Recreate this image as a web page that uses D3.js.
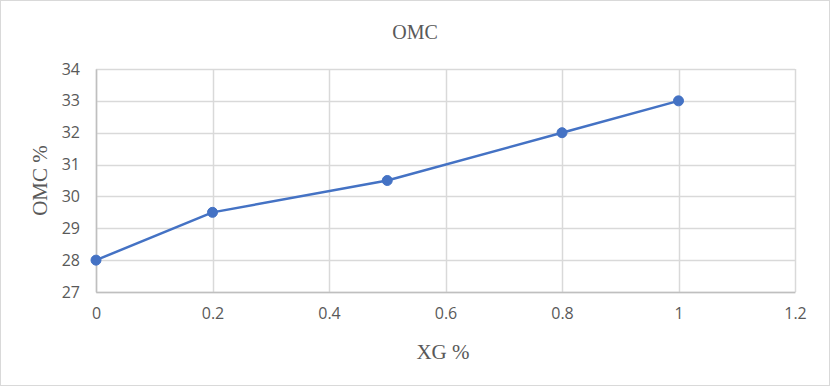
<!DOCTYPE html>
<html>
<head>
<meta charset="utf-8">
<script src="https://cdn.jsdelivr.net/npm/d3@7"></script>
<style>
  body { margin: 0; background: #fff; }
  svg { display: block; }
</style>
</head>
<body>
<svg id="chart" width="830" height="386"></svg>
<script>
// data
var xgValues = [0, 0.2, 0.5, 0.8, 1];
var omcValues = [28, 29.5, 30.5, 32, 33];
var xTicks = [0, 0.2, 0.4, 0.6, 0.8, 1, 1.2];
var yTicks = [27, 28, 29, 30, 31, 32, 33, 34];

var W = 830, H = 386;
var margin = {top: 69, right: 35, bottom: 94, left: 96};
var width = W - margin.left - margin.right,
    height = H - margin.top - margin.bottom;

var svg = d3.select("#chart");

// outer border
svg.append("rect")
  .attr("x", 0.5).attr("y", 0.5)
  .attr("width", W - 1).attr("height", H - 1)
  .attr("fill", "#fff")
  .attr("stroke", "#d9d9d9");

var g = svg.append("g")
  .attr("transform", "translate(" + margin.left + "," + margin.top + ")");

var xScale = d3.scaleLinear().domain([0, 1.2]).range([0, width]);
var yScale = d3.scaleLinear().domain([27, 34]).range([height, 0]);

// gridlines
g.selectAll(".hgrid")
  .data(yTicks)
  .enter().append("line")
  .attr("x1", 0).attr("x2", width)
  .attr("y1", function(d) { return Math.round(yScale(d)) + 0.5; })
  .attr("y2", function(d) { return Math.round(yScale(d)) + 0.5; })
  .attr("stroke", "#d9d9d9")
  .attr("stroke-width", 1.5);

g.selectAll(".vgrid")
  .data(xTicks)
  .enter().append("line")
  .attr("y1", 0).attr("y2", height)
  .attr("x1", function(d) { return Math.round(xScale(d)) + 0.5; })
  .attr("x2", function(d) { return Math.round(xScale(d)) + 0.5; })
  .attr("stroke", "#d9d9d9")
  .attr("stroke-width", 1.5);

// axes
var xAxis = d3.axisBottom(xScale).tickValues(xTicks).tickSize(0).tickPadding(16)
  .tickFormat(function(d) { return String(+d.toFixed(1)); });
var yAxis = d3.axisLeft(yScale).tickValues(yTicks).tickSize(0).tickPadding(16)
  .tickFormat(d3.format("d"));

var gx = g.append("g")
  .attr("transform", "translate(0," + height + ")")
  .call(xAxis);
gx.select(".domain").attr("stroke", "#bfbfbf").attr("stroke-width", 1.5);

var gy = g.append("g").call(yAxis);
gy.select(".domain").attr("stroke", "#bfbfbf").attr("stroke-width", 1.5);

svg.selectAll(".tick text")
  .attr("fill", "#595959")
  .style("font-family", "'Open Sans', 'Liberation Sans', sans-serif")
  .style("font-size", "16px");

// line
var lineGenerator = d3.line()
  .x(function(d, i) { return xScale(xgValues[i]); })
  .y(function(d) { return yScale(d); });

g.append("path")
  .attr("fill", "none")
  .attr("stroke", "#4472c4")
  .attr("stroke-width", 2.5)
  .attr("stroke-linejoin", "round")
  .attr("d", lineGenerator(omcValues));

g.selectAll(".dot")
  .data(omcValues)
  .enter().append("circle")
  .attr("cx", function(d, i) { return xScale(xgValues[i]); })
  .attr("cy", function(d) { return yScale(d); })
  .attr("r", 5)
  .attr("fill", "#4472c4")
  .attr("stroke", "#4472c4");

// titles
var serif = "'Liberation Serif', 'DejaVu Serif', serif";
svg.append("text")
  .attr("x", 415).attr("y", 39)
  .attr("text-anchor", "middle")
  .attr("fill", "#595959")
  .style("font-family", serif)
  .style("font-size", "20px")
  .text("OMC");

svg.append("text")
  .attr("x", 443).attr("y", 359)
  .attr("text-anchor", "middle")
  .attr("fill", "#595959")
  .style("font-family", serif)
  .style("font-size", "21px")
  .text("XG %");

svg.append("text")
  .attr("transform", "translate(47," + (margin.top + height / 2) + ") rotate(-90)")
  .attr("text-anchor", "middle")
  .attr("fill", "#595959")
  .style("font-family", serif)
  .style("font-size", "21px")
  .text("OMC %");
</script>
</body>
</html>
